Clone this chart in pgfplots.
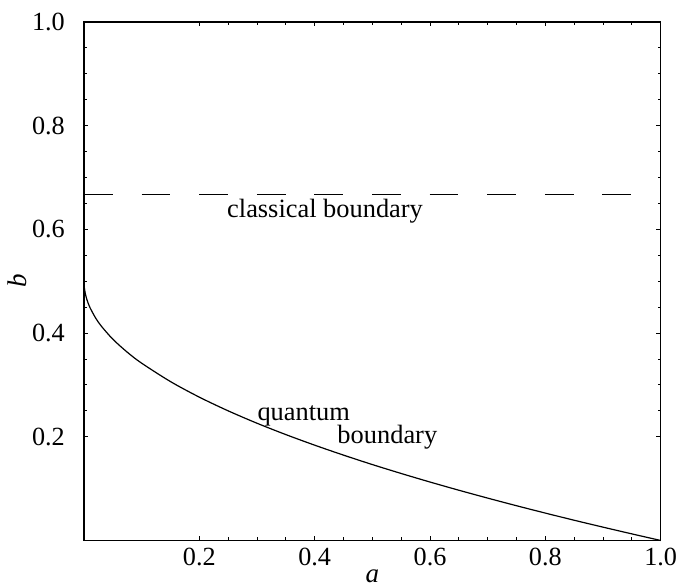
\documentclass[border=0pt]{standalone}
\usepackage{fontspec}
\setmainfont{Liberation Serif}
\usepackage{pgfplots}
\pgfplotsset{compat=1.18}
\begin{document}
\fontsize{13.2pt}{15pt}\selectfont
\begin{tikzpicture}
\begin{axis}[
  scale only axis,
  width=288.3pt, height=259.2pt,
  xmin=0, xmax=1, ymin=0, ymax=1,
  xtick={0.2,0.4,0.6,0.8,1.0},
  ytick={0.2,0.4,0.6,0.8,1.0},
  minor tick num=3,
  tick align=inside,
  major tick length=2.2pt,
  minor tick length=1.6pt,
  tick style={black, line width=0.5pt},
  axis line style={line width=0.6pt},
  /pgf/number format/assume math mode=true,
  /pgf/number format/fixed,
  /pgf/number format/fixed zerofill,
  /pgf/number format/precision=1,
  ticklabel style={font=\fontsize{13.1pt}{15pt}\selectfont},
  yticklabel style={xshift=-5pt},
  xticklabel style={yshift=1pt},
  xlabel={\textit{a}},
  ylabel={\textit{b}},
  label style={font=\fontsize{13.5pt}{15pt}\selectfont},
  xlabel style={yshift=7pt},
  ylabel style={yshift=-6.5pt},
  clip=false,
]
\addplot[black, line width=0.6pt, dash pattern=on 14.4pt off 14.4pt] coordinates {(0,0.6667) (1,0.6667)};
\addplot[black, line width=0.6pt, smooth] coordinates {
(0,0.5) (0.0002,0.4929) (0.0005,0.4888) (0.001,0.4842) (0.0025,0.475) (0.005,0.4646) (0.01,0.45)
(0.02,0.4293) (0.03,0.4134) (0.05,0.3882) (0.075,0.3631) (0.1,0.3419)
(0.15,0.3064) (0.2,0.2764) (0.25,0.25) (0.3,0.2261) (0.35,0.2042)
(0.4,0.1838) (0.45,0.1646) (0.5,0.1464) (0.55,0.1292) (0.6,0.1127)
(0.65,0.0969) (0.7,0.0817) (0.75,0.0670) (0.8,0.0528) (0.85,0.0390)
(0.9,0.0257) (0.95,0.0127) (1.0,0)
};
\node at (axis cs:0.418,0.635) {classical boundary};
\node at (axis cs:0.381,0.240) {quantum};
\node at (axis cs:0.526,0.1996) {boundary};
\end{axis}
\pgfresetboundingbox
\path ([xshift=-42pt,yshift=-22.8pt]current axis.south west) rectangle ([xshift=9.15pt,yshift=11pt]current axis.north east);
\end{tikzpicture}
\end{document}
